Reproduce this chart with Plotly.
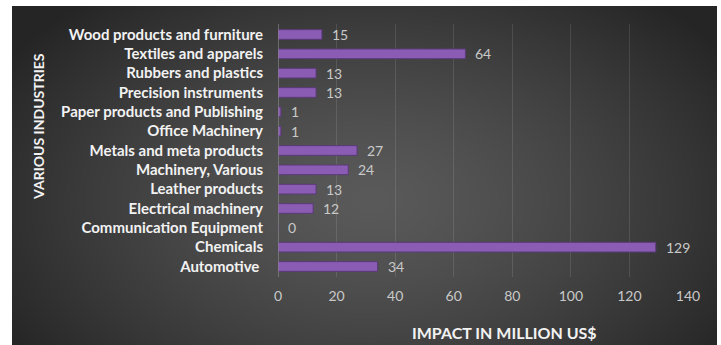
import base64
import struct
import zlib

import numpy as np
import plotly.graph_objects as go

# Industry impact data (bottom-to-top order as drawn)
industries = [
    "Automotive ",
    "Chemicals",
    "Communication Equipment",
    "Electrical machinery",
    "Leather products",
    "Machinery, Various",
    "Metals and meta products",
    "Office Machinery",
    "Paper products and Publishing",
    "Precision instruments",
    "Rubbers and plastics",
    "Textiles and apparels",
    "Wood products and furniture",
]
impact = [34, 129, 0, 12, 13, 24, 27, 1, 1, 13, 13, 64, 15]
x_ticks = [0, 20, 40, 60, 80, 100, 120, 140]

W, H = 721, 345
ML, MR, MT, MB = 278, 33, 24, 68
PW, PH = W - ML - MR, H - MT - MB

# Chart panel (dark radial background) in pixels
BX0, BY0, BX1, BY1 = 12, 6, 717, 345


def radial_png(w, h, cx, cy, rx, ry, inner, outer):
    yy, xx = np.mgrid[0:h, 0:w].astype(float)
    d = np.sqrt(((xx - cx) / rx) ** 2 + ((yy - cy) / ry) ** 2)
    t = np.clip(d, 0, 1) ** 1.3
    v = (inner + (outer - inner) * t).astype(np.uint8)
    rgb = np.stack([v, v, v], axis=-1)
    raw = b"".join(b"\x00" + rgb[r].tobytes() for r in range(h))

    def chunk(tag, data):
        c = struct.pack(">I", len(data)) + tag + data
        return c + struct.pack(">I", zlib.crc32(tag + data) & 0xFFFFFFFF)

    png = b"\x89PNG\r\n\x1a\n"
    png += chunk(b"IHDR", struct.pack(">IIBBBBB", w, h, 8, 2, 0, 0, 0))
    png += chunk(b"IDAT", zlib.compress(raw, 9))
    png += chunk(b"IEND", b"")
    return "data:image/png;base64," + base64.b64encode(png).decode()


bw, bh = BX1 - BX0, BY1 - BY0
bg_src = radial_png(bw, bh, 370 - BX0, 200 - BY0, 430, 270, 90, 37)


def px_to_paper_x(px):
    return (px - ML) / PW


def px_to_paper_y(py):
    return (H - MB - py) / PH


fig = go.Figure()
fig.add_trace(
    go.Bar(
        y=industries,
        x=impact,
        orientation="h",
        marker=dict(color="#8a5cb3", line=dict(color="#5b3a7a", width=1)),
        hoverinfo="skip",
    )
)

# Value labels just past the end of each bar
for name, val in zip(industries, impact):
    fig.add_annotation(
        x=val,
        y=name,
        xref="x",
        yref="y",
        text=str(val),
        showarrow=False,
        xanchor="left",
        yanchor="middle",
        xshift=8,
        font=dict(family="Lato", size=14, color="#c9c9c9"),
    )

fig.add_layout_image(
    dict(
        source=bg_src,
        xref="paper",
        yref="paper",
        x=px_to_paper_x(BX0),
        y=px_to_paper_y(BY0),
        sizex=bw / PW,
        sizey=bh / PH,
        xanchor="left",
        yanchor="top",
        sizing="stretch",
        layer="below",
    )
)

fig.add_annotation(
    text="<b>IMPACT IN MILLION US$</b>",
    xref="paper",
    yref="paper",
    x=px_to_paper_x(504),
    y=px_to_paper_y(332),
    showarrow=False,
    font=dict(family="Lato", size=16, color="#f2f2f2"),
    xanchor="center",
    yanchor="middle",
)
fig.add_annotation(
    text="<b>VARIOUS INDUSTRIES</b>",
    xref="paper",
    yref="paper",
    x=px_to_paper_x(38),
    y=px_to_paper_y(127),
    showarrow=False,
    textangle=-90,
    font=dict(family="Lato", size=14, color="#f2f2f2"),
    xanchor="center",
    yanchor="middle",
)

fig.update_layout(
    width=W,
    height=H,
    margin=dict(l=ML, r=MR, t=MT, b=MB),
    paper_bgcolor="white",
    plot_bgcolor="rgba(0,0,0,0)",
    bargap=0.5,
    showlegend=False,
    xaxis=dict(
        range=[0, 140],
        tickvals=x_ticks,
        ticktext=[str(t) for t in x_ticks],
        showgrid=True,
        gridcolor="rgba(255,255,255,0.11)",
        gridwidth=1,
        zeroline=False,
        showline=False,
        ticks="",
        ticklabelstandoff=9,
        tickfont=dict(family="Lato", size=14, color="#c9c9c9"),
        fixedrange=True,
    ),
    yaxis=dict(
        categoryorder="array",
        categoryarray=industries,
        showgrid=False,
        zeroline=False,
        showline=False,
        ticks="",
        ticklabelstandoff=14,
        tickfont=dict(family="Lato", size=15, color="#f2f2f2", weight="bold"),
        fixedrange=True,
    ),
    shapes=[
        dict(
            type="line",
            xref="x",
            yref="paper",
            x0=0,
            x1=0,
            y0=0,
            y1=1,
            line=dict(color="#9a9a9a", width=1),
        )
    ],
)

fig.write_html("out.html")
